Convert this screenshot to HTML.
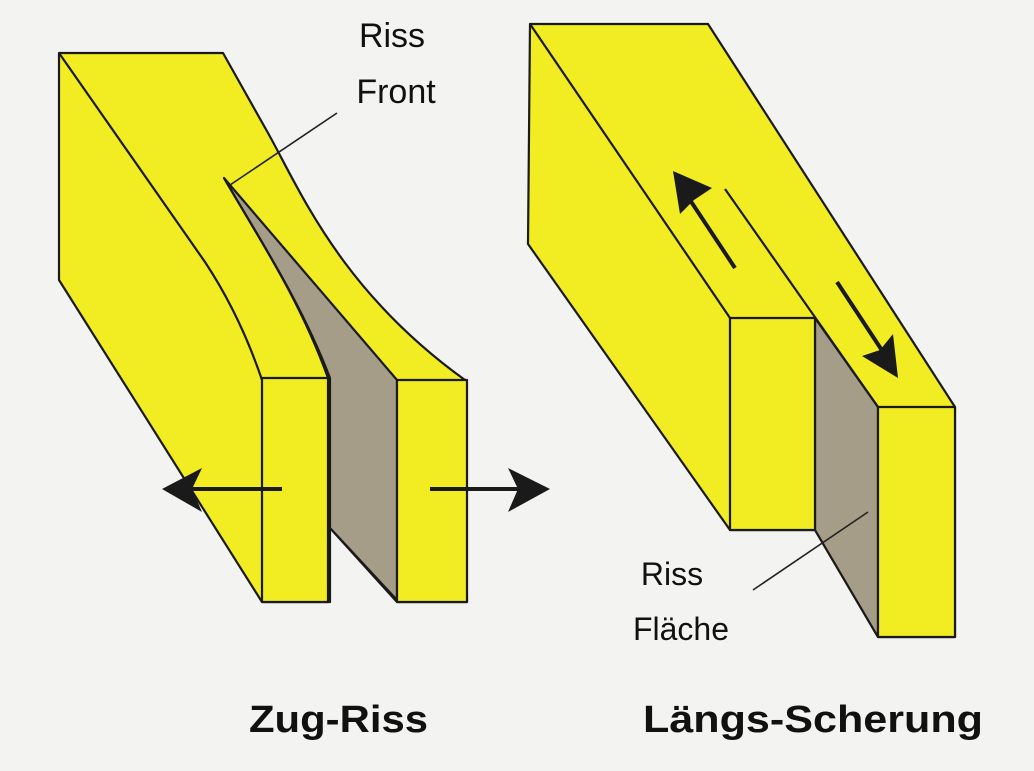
<!DOCTYPE html>
<html><head><meta charset="utf-8"><style>
html,body{margin:0;padding:0;background:#f3f3f1;}
svg{display:block;}
text{font-family:"Liberation Sans",sans-serif;fill:#111;}
</style></head><body>
<svg width="1034" height="771" viewBox="0 0 1034 771" xmlns="http://www.w3.org/2000/svg">
<rect width="1034" height="771" fill="#f3f3f1"/>
<g stroke="#1a1a1a" stroke-width="2.2" stroke-linejoin="round" fill="none">
<!-- Left block -->
<path d="M59,53 L223,53 L268,133 C300,190 340,290 465,380 L467,602 L397,602 L330,528 L330,602 L262,602 L59,280 Z" fill="#f2ec22"/>
<path d="M224,178 L397,380 L397,600 L330,528 L330,378 C300,300 260,240 224,178 Z" fill="#a69d89"/>
<path d="M59,53 L205,262 Q240,315 262,380"/>
<rect x="262" y="378" width="66" height="224" fill="#f2ec22"/>
<rect x="397" y="380" width="70" height="222" fill="#f2ec22"/>
<path d="M224,178 C260,240 300,300 328,378"/>
<!-- Right block -->
<path d="M530,24 L708,24 L955,407 L955,637 L878,637 L815,530 L730,530 L528,244 Z" fill="#f2ec22"/>
<path d="M815,318 L878,407 L878,637 L815,530 Z" fill="#a69d89"/>
<path d="M530,24 L730,318"/>
<path d="M725,189 L878,407"/>
<rect x="730" y="318" width="85" height="212" fill="#f2ec22"/>
<rect x="878" y="407" width="77" height="230" fill="#f2ec22"/>
</g>
<!-- leader lines -->
<g stroke="#222" stroke-width="1.6">
<line x1="230" y1="185" x2="337" y2="113"/>
<line x1="753" y1="590" x2="868" y2="512"/>
</g>
<!-- arrows -->
<g stroke="#1a1a1a" stroke-width="4">
<line x1="282" y1="489" x2="190" y2="489"/>
<line x1="430" y1="489" x2="525" y2="489"/>
<line x1="735" y1="268" x2="690" y2="200"/>
<line x1="837" y1="282" x2="885" y2="355"/>
</g>
<g fill="#1a1a1a">
<path d="M162,489 L202,468 L192,489 L202,512 Z"/>
<path d="M550,489 L508,468 L518,489 L508,512 Z"/>
<path d="M673,171 L712,188 L694,200 L680,214 Z"/>
<path d="M898,378 L862,356 L880,350 L893,334 Z"/>
</g>
<text x="392" y="47" font-size="34" text-anchor="middle">Riss</text>
<text x="396" y="103" font-size="34" text-anchor="middle">Front</text>
<text x="672" y="585" font-size="32" text-anchor="middle">Riss</text>
<text x="681" y="640" font-size="32" text-anchor="middle">Fläche</text>
<text x="249" y="732" font-size="38" font-weight="bold" textLength="179" lengthAdjust="spacingAndGlyphs">Zug-Riss</text>
<text x="643" y="732" font-size="38" font-weight="bold" textLength="340" lengthAdjust="spacingAndGlyphs">Längs-Scherung</text>
</svg>
</body></html>
